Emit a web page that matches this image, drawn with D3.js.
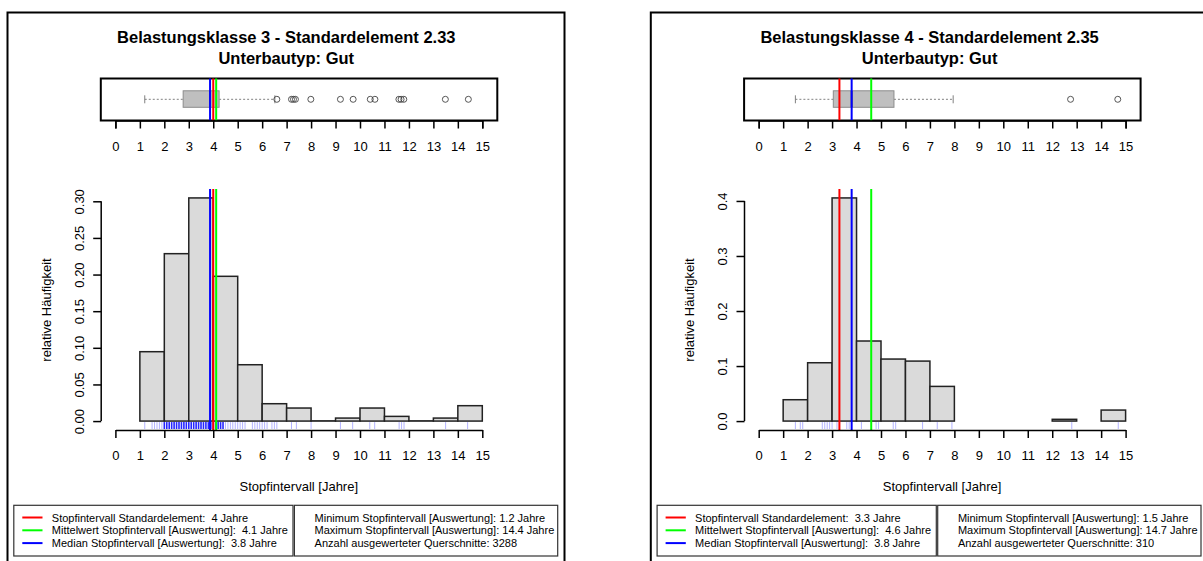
<!DOCTYPE html>
<html><head><meta charset="utf-8">
<script src="https://cdn.jsdelivr.net/npm/d3@7"></script>
<style>
html,body{margin:0;padding:0;background:#fff;}
svg{display:block;font-family:"Liberation Sans",Arial,sans-serif;}
</style></head>
<body>
<svg id="chart" width="1203" height="561"></svg>
<script>
// ---------------- data ----------------
const breaks = [1,2,3,4,5,6,7,8,9,10,11,12,13,14,15];
const xTickLabels = [0,1,2,3,4,5,6,7,8,9,10,11,12,13,14,15];

// panel 1: Belastungsklasse 3
const titles3 = ["Belastungsklasse 3 - Standardelement 2.33", "Unterbautyp: Gut"];
const relFreq3 = [0.0947,0.2285,0.3046,0.1976,0.0769,0.0237,0.0178,0.0003,0.0041,0.0178,0.0064,0.0003,0.0041,0.0210];
const yTicks3 = [0,0.05,0.10,0.15,0.20,0.25,0.30];
const boxStats3 = [1.2, 2.77, 3.87, 4.24, 6.52]; // lower whisker, Q1, median, Q3, upper whisker
const outliers3 = [6.60,7.20,7.28,7.36,7.99,9.20,9.72,10.42,10.61,11.59,11.68,11.79,13.49,14.43];
const refLines3 = [4.0, 4.12, 3.87]; // Standardelement, Mittelwert, Median
const rugFaint3 = [1.2,1.5,1.6,1.7,1.8,1.9,4.5,4.6,4.7,4.8,4.9,5.0,5.1,5.2,5.3,5.6,5.7,5.8,5.9,6.0,6.1,6.2,6.4,6.5,6.6,7.2,7.4,8.0,9.2,9.7,10.4,10.6,11.6,11.7,11.8,13.5,14.4];
const rugDense3 = [2.0,2.1,2.2,2.3,2.4,2.5,2.6,2.7,2.8,2.9,3.0,3.1,3.2,3.3,3.4,3.5,3.6,3.7,3.8,3.9,4.0,4.1,4.2,4.3,4.4];
const legendLeft3 = ["Stopfintervall Standardelement:  4 Jahre","Mittelwert Stopfintervall [Auswertung]:  4.1 Jahre","Median Stopfintervall [Auswertung]:  3.8 Jahre"];
const legendRight3 = ["Minimum Stopfintervall [Auswertung]: 1.2 Jahre","Maximum Stopfintervall [Auswertung]: 14.4 Jahre","Anzahl ausgewerteter Querschnitte: 3288"];

// panel 2: Belastungsklasse 4
const titles4 = ["Belastungsklasse 4 - Standardelement 2.35", "Unterbautyp: Gut"];
const relFreq4 = [0.0388,0.1060,0.4055,0.1455,0.1127,0.1090,0.0630,0,0,0,0,0.0032,0,0.0200];
const yTicks4 = [0,0.1,0.2,0.3,0.4];
const boxStats4 = [1.5, 3.05, 3.8, 5.53, 7.95];
const outliers4 = [12.75, 14.68];
const refLines4 = [3.3, 4.6, 3.8];
const rugFaint4 = [1.5,1.7,1.8,2.6,2.7,2.8,2.9,3.0,3.2,3.3,3.6,3.7,4.2,4.8,4.9,5.5,5.6,6.7,7.3,7.9,12.8,14.7];
const rugDense4 = [];
const legendLeft4 = ["Stopfintervall Standardelement:  3.3 Jahre","Mittelwert Stopfintervall [Auswertung]:  4.6 Jahre","Median Stopfintervall [Auswertung]:  3.8 Jahre"];
const legendRight4 = ["Minimum Stopfintervall [Auswertung]: 1.5 Jahre","Maximum Stopfintervall [Auswertung]: 14.7 Jahre","Anzahl ausgewerteter Querschnitte: 310"];

const lineColors = ["#ff0000","#00ff00","#0000ff"];

// ---------------- drawing ----------------
const svg = d3.select("#chart");

function drawPanel(ox, cfg) {
  const g = svg.append("g").attr("transform", `translate(${ox},0)`);
  const x = d3.scaleLinear().domain([0, 15]).range([115.4, 482.3]);

  // outer frame
  g.append("rect").attr("x", 7.5).attr("y", 12.5).attr("width", 557).attr("height", 560)
    .attr("fill", "none").attr("stroke", "#000").attr("stroke-width", 2);

  // titles
  g.selectAll("text.title").data(cfg.titles).join("text").attr("class", "title")
    .attr("x", 286.3).attr("y", (d, i) => 37 + i * 20.5)
    .attr("text-anchor", "middle").attr("dominant-baseline", "central")
    .style("font-weight", "bold").style("font-size", "16.5px").text(d => d);

  // ---- boxplot ----
  const bTop = 78.5, bBot = 120.5, bMid = 99.3;
  g.append("rect").attr("x", 100.8).attr("y", bTop).attr("width", 396.5).attr("height", bBot - bTop)
    .attr("fill", "#fff").attr("stroke", "#000").attr("stroke-width", 2);
  const [lw, q1, med, q3, uw] = cfg.box;
  const wh = g.append("g").attr("stroke", "#808080").attr("stroke-width", 1);
  wh.append("line").attr("x1", x(lw)).attr("x2", x(q1)).attr("y1", bMid).attr("y2", bMid).attr("stroke-dasharray", "2,2");
  wh.append("line").attr("x1", x(q3)).attr("x2", x(uw)).attr("y1", bMid).attr("y2", bMid).attr("stroke-dasharray", "2,2");
  wh.append("line").attr("x1", x(lw)).attr("x2", x(lw)).attr("y1", bMid - 4).attr("y2", bMid + 4);
  wh.append("line").attr("x1", x(uw)).attr("x2", x(uw)).attr("y1", bMid - 4).attr("y2", bMid + 4);
  g.append("rect").attr("x", x(q1)).attr("y", 90.8).attr("width", x(q3) - x(q1)).attr("height", 16.5)
    .attr("fill", "#bfbfbf").attr("stroke", "#8c8c8c").attr("stroke-width", 1);
  g.append("line").attr("x1", x(med)).attr("x2", x(med)).attr("y1", 90.8).attr("y2", 107.3)
    .attr("stroke", "#555").attr("stroke-width", 2);
  g.selectAll("circle.out").data(cfg.outliers).join("circle").attr("class", "out")
    .attr("cx", d => x(d)).attr("cy", bMid).attr("r", 3)
    .attr("fill", "none").attr("stroke", "#444").attr("stroke-width", 0.9);
  g.selectAll("line.bref").data(cfg.refLines).join("line").attr("class", "bref")
    .attr("x1", d => x(d)).attr("x2", d => x(d)).attr("y1", bTop).attr("y2", bBot)
    .attr("stroke", (d, i) => lineColors[i]).attr("stroke-width", 2);
  // boxplot axis
  const bAxis = g.append("g").attr("transform", `translate(0,${bBot})`)
    .call(d3.axisBottom(x).tickValues(cfg.xTicks).tickSize(8).tickPadding(13).tickFormat(d3.format("d")));
  bAxis.select(".domain").attr("stroke-width", 1.5);
  bAxis.selectAll(".tick line").attr("stroke-width", 1.5);
  bAxis.selectAll("text").style("font-size", "13px").attr("font-family", null);

  // ---- histogram ----
  const yMax = d3.max(cfg.freq);
  const plotTop = 189, plotBot = 430;
  const y = d3.scaleLinear().domain([-0.04 * yMax, 1.04 * yMax]).range([plotBot, plotTop]);
  const bins = cfg.freq.map((f, i) => ({ x0: breaks[i], x1: breaks[i + 1], f }));
  g.selectAll("rect.bar").data(bins.filter(b => b.f > 0)).join("rect").attr("class", "bar")
    .attr("x", d => x(d.x0)).attr("width", d => x(d.x1) - x(d.x0))
    .attr("y", d => y(d.f)).attr("height", d => y(0) - y(d.f))
    .attr("fill", "#dadada").attr("stroke", "#222").attr("stroke-width", 1.5);

  // rug
  g.selectAll("line.rugf").data(cfg.rugFaint).join("line").attr("class", "rugf")
    .attr("x1", d => x(d)).attr("x2", d => x(d)).attr("y1", y(0) + 1).attr("y2", plotBot - 1)
    .attr("stroke", "#0000ff").attr("stroke-opacity", 0.3).attr("stroke-width", 1);
  g.selectAll("line.rugd").data(cfg.rugDense).join("line").attr("class", "rugd")
    .attr("x1", d => x(d)).attr("x2", d => x(d)).attr("y1", y(0) + 1).attr("y2", plotBot - 1)
    .attr("stroke", "#0000ff").attr("stroke-opacity", 0.85).attr("stroke-width", 1.6);

  // reference lines
  g.selectAll("line.href").data(cfg.refLines).join("line").attr("class", "href")
    .attr("x1", d => x(d)).attr("x2", d => x(d)).attr("y1", plotTop).attr("y2", plotBot)
    .attr("stroke", (d, i) => lineColors[i]).attr("stroke-width", 2);

  // y axis
  const yAx = g.append("g").attr("transform", "translate(101.2,0)")
    .call(d3.axisLeft(y).tickValues(cfg.yTicks).tickSize(8).tickSizeOuter(0).tickFormat(d3.format(cfg.yFmt)));
  yAx.select(".domain").attr("stroke-width", 1.5).attr("d", `M0,${y(cfg.yTicks[0])}V${y(cfg.yTicks[cfg.yTicks.length - 1])}`);
  yAx.selectAll(".tick line").attr("stroke-width", 1.5);
  yAx.selectAll(".tick text").style("font-size", "13px").attr("font-family", null)
    .attr("x", null).attr("dy", null).attr("text-anchor", "middle").attr("dominant-baseline", "central")
    .attr("transform", "translate(-22,0) rotate(-90)");
  g.append("text").attr("transform", "translate(46.5,310) rotate(-90)")
    .attr("text-anchor", "middle").attr("dominant-baseline", "central")
    .style("font-size", "13px").text("relative Häufigkeit");

  // x axis
  const xAx = g.append("g").attr("transform", `translate(0,${plotBot})`)
    .call(d3.axisBottom(x).tickValues(cfg.xTicks).tickSize(8).tickSizeOuter(0).tickPadding(13).tickFormat(d3.format("d")));
  xAx.select(".domain").attr("stroke-width", 1.5);
  xAx.selectAll(".tick line").attr("stroke-width", 1.5);
  xAx.selectAll("text").style("font-size", "13px").attr("font-family", null);
  g.append("text").attr("x", 298.8).attr("y", 486.7)
    .attr("text-anchor", "middle").attr("dominant-baseline", "central")
    .style("font-size", "13px").text("Stopfintervall [Jahre]");

  // ---- legend ----
  const lg = g.append("g");
  lg.append("rect").attr("x", 13.8).attr("y", 505.3).attr("width", 279.2).attr("height", 50.7)
    .attr("fill", "#fff").attr("stroke", "#333").attr("stroke-width", 1.2);
  lg.append("rect").attr("x", 294.4).attr("y", 505.3).attr("width", 263.3).attr("height", 50.7)
    .attr("fill", "#fff").attr("stroke", "#333").attr("stroke-width", 1.2);
  const rowY = i => 517.5 + i * 12.8;
  lg.selectAll("line.leg").data(cfg.legendLeft).join("line").attr("class", "leg")
    .attr("x1", 22.3).attr("x2", 42.5).attr("y1", (d, i) => rowY(i)).attr("y2", (d, i) => rowY(i))
    .attr("stroke", (d, i) => lineColors[i]).attr("stroke-width", 2);
  lg.selectAll("text.legl").data(cfg.legendLeft).join("text").attr("class", "legl")
    .attr("x", 51.8).attr("y", (d, i) => rowY(i)).attr("dominant-baseline", "central")
    .style("font-size", "11px").style("white-space", "pre").attr("xml:space", "preserve").text(d => d);
  lg.selectAll("text.legr").data(cfg.legendRight).join("text").attr("class", "legr")
    .attr("x", 314.6).attr("y", (d, i) => rowY(i)).attr("dominant-baseline", "central")
    .style("font-size", "11px").text(d => d);
}

drawPanel(0, {
  titles: titles3, freq: relFreq3, yTicks: yTicks3, yFmt: ".2f", xTicks: xTickLabels,
  box: boxStats3, outliers: outliers3, refLines: refLines3,
  rugFaint: rugFaint3, rugDense: rugDense3, legendLeft: legendLeft3, legendRight: legendRight3
});
drawPanel(643.3, {
  titles: titles4, freq: relFreq4, yTicks: yTicks4, yFmt: ".1f", xTicks: xTickLabels,
  box: boxStats4, outliers: outliers4, refLines: refLines4,
  rugFaint: rugFaint4, rugDense: rugDense4, legendLeft: legendLeft4, legendRight: legendRight4
});
</script>
</body></html>
